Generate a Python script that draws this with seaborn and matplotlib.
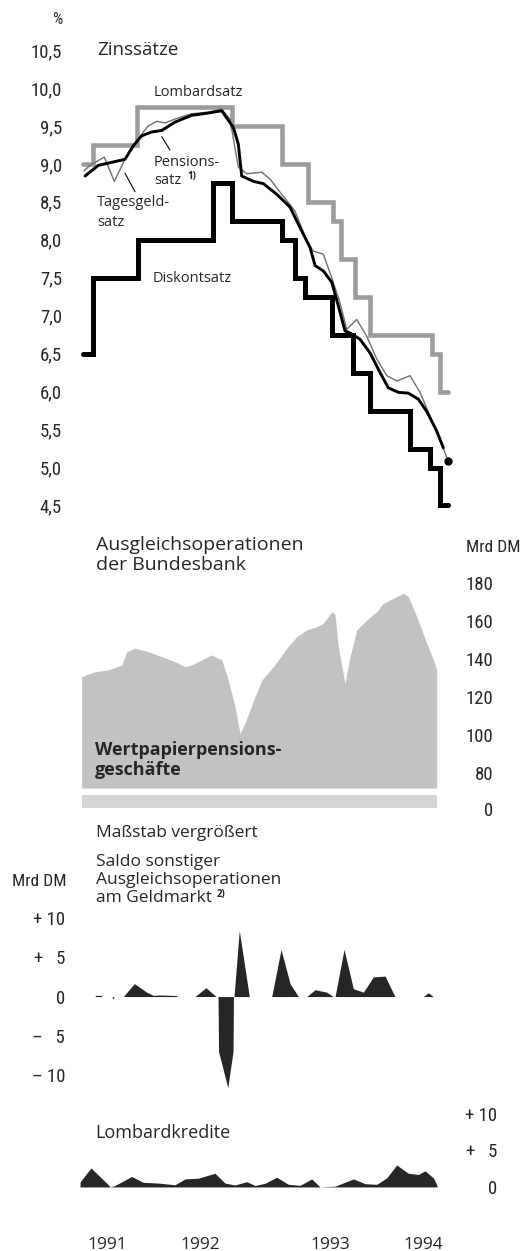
import numpy as np
import matplotlib
matplotlib.use("Agg")
import matplotlib.pyplot as plt
from matplotlib.lines import Line2D
import seaborn as sns

# ==========================================
# DATA (time axis in months since Jan 1991)
# ==========================================
# Zinssaetze, step series (value holds until next date)
LOMB_T = [6.45, 7.39, 11.53, 20.51, 25.24, 27.76, 30.13, 30.86, 32.18, 33.6, 39.44, 40.22, 41.0]
LOMB_R = [9.0, 9.25, 9.75, 9.5, 9.0, 8.5, 8.25, 7.75, 7.25, 6.75, 6.5, 6.0, 6.0]

DISK_T = [6.45, 7.39, 11.65, 18.75, 20.51, 25.24, 26.5, 27.45, 29.98, 32.02, 33.6, 37.38, 39.27, 40.22, 41.0]
DISK_R = [6.5, 7.5, 8.0, 8.75, 8.25, 8.0, 7.5, 7.25, 6.75, 6.25, 5.75, 5.25, 5.0, 4.5, 4.5]

# Pensionssatz (thick line)
PENS_T = [6.64, 7.89, 10.42, 11.21, 12.0, 12.95, 13.89, 15.15, 16.73, 18.3, 19.57, 20.67, 21.14,
          21.46, 22.56, 23.5, 24.77, 26.03, 26.98, 27.92, 28.4, 29.18, 29.98, 30.6, 31.23, 31.87,
          32.65, 33.6, 34.55, 35.33, 36.28, 37.22, 38.17, 38.96, 39.91, 40.53]
PENS_R = [8.84, 8.98, 9.06, 9.24, 9.37, 9.42, 9.44, 9.55, 9.64, 9.67, 9.70, 9.48, 9.26,
          8.84, 8.77, 8.74, 8.60, 8.43, 8.16, 7.90, 7.66, 7.59, 7.44, 7.13, 6.80, 6.76,
          6.69, 6.51, 6.25, 6.05, 5.99, 5.98, 5.90, 5.74, 5.48, 5.26]

# Tagesgeldsatz (thin line)
TAGG_T = [6.54, 7.11, 8.46, 9.41, 10.42, 11.21, 12.15, 12.62, 13.42, 14.2, 15.15, 16.73, 18.27,
          19.57, 20.35, 21.14, 21.93, 23.35, 24.14, 25.24, 26.5, 27.6, 28.23, 29.18, 29.98, 30.76,
          31.39, 32.34, 33.29, 34.23, 35.18, 36.13, 37.38, 38.33, 39.27, 40.22, 41.0]
TAGG_R = [8.91, 8.98, 9.09, 8.77, 9.06, 9.22, 9.42, 9.50, 9.56, 9.54, 9.59, 9.66, 9.68,
          9.72, 9.59, 8.96, 8.87, 8.89, 8.80, 8.60, 8.38, 7.99, 7.85, 7.81, 7.50, 7.17,
          6.82, 6.95, 6.73, 6.43, 6.21, 6.14, 6.21, 5.99, 5.68, 5.37, 5.08]

RATE_TICKS = [4.5, 5.0, 5.5, 6.0, 6.5, 7.0, 7.5, 8.0, 8.5, 9.0, 9.5, 10.0, 10.5]

# Wertpapierpensionsgeschaefte, Mrd DM
REPO_T = [6.32, 7.58, 8.84, 10.11, 10.58, 11.37, 12.62, 13.89, 15.15, 16.10, 16.73, 17.68, 18.62,
          19.57, 20.19, 20.83, 21.30, 21.77, 22.72, 23.38, 24.45, 25.72, 26.66, 27.61, 28.56,
          29.18, 29.98, 30.29, 30.60, 31.23, 31.71, 32.34, 33.29, 34.23, 34.86, 35.80, 36.75,
          37.22, 38.02, 38.96, 39.59, 39.91]
REPO_V = [130.7, 133.3, 134.2, 136.8, 143.8, 145.6, 143.8, 141.2, 138.6, 135.9, 136.8, 139.5, 142.1,
          139.5, 128.9, 114.9, 100.9, 106.2, 120.2, 129.0, 135.9, 145.6, 151.7, 155.3, 157.0,
          158.8, 164.9, 163.2, 146.5, 127.2, 141.2, 155.3, 160.5, 164.9, 169.3, 171.9, 174.6,
          172.8, 162.3, 148.3, 139.5, 134.2]
REPO_TICKS = [80, 100, 120, 140, 160, 180]

# Saldo sonstiger Ausgleichsoperationen, Mrd DM
SALDO_T = [7.58, 7.63, 8.20, 8.24, 9.19, 9.28, 9.38, 10.26, 11.30, 12.47, 13.10, 13.73, 15.31, 15.34,
           17.04, 18.08, 19.03, 19.22, 19.27, 20.14, 20.64, 20.68, 20.73, 21.23, 22.18,
           24.30, 25.18, 26.03, 26.82, 27.61, 28.40, 29.50, 30.13, 30.29, 31.14, 32.02, 32.97,
           33.91, 35.02, 35.96, 38.64, 39.11, 39.59]
SALDO_V = [0, 0.15, 0.15, 0, 0, -0.3, 0, 0, 1.65, 0.56, 0.15, 0.2, 0.13, 0,
           0, 1.13, 0, 0, -7.0, -11.6, -7.0, 0, 0, 8.4, 0,
           0, 6.0, 1.65, 0, 0, 0.87, 0.56, 0, 0, 6.0, 1.0, 0.56,
           2.5, 2.6, 0, 0, 0.48, 0]
SALDO_TICKS = [10, 5, 0, -5, -10]
SALDO_LABELS = ["+ 10", "+   5", "0", "\u2013   5", "\u2013 10"]

# Lombardkredite, Mrd DM
LKRED_T = [6.16, 6.18, 7.20, 8.84, 9.0, 9.41, 11.05, 12.15, 13.57, 15.15, 16.10, 17.35, 18.93, 19.88,
           20.83, 21.93, 22.72, 23.66, 24.77, 25.87, 26.98, 28.08, 28.87, 30.29, 32.02, 33.13,
           34.23, 35.18, 36.12, 37.22, 38.17, 38.80, 39.59, 39.91, 39.94]
LKRED_V = [0, 0.7, 2.6, 0.3, 0, 0.15, 1.43, 0.63, 0.53, 0.3, 1.1, 1.2, 1.87, 0.53,
           0.27, 0.72, 0.2, 0.5, 1.33, 0.36, 0.22, 1.1, 0, 0.1, 1.1, 0.45,
           0.36, 1.24, 3.0, 1.87, 1.7, 2.2, 1.24, 0.3, 0]
LKRED_TICKS = [0, 5, 10]
LKRED_LABELS = ["0", "+   5", "+ 10"]

YEAR_POS = [8.7, 17.5, 29.8, 38.6]
YEAR_LABELS = ["1991", "1992", "1993", "1994"]

# ==========================================
# STYLE / LAYOUT
# ==========================================
sns.set_theme(style="white")
plt.rcParams['font.family'] = ['Open Sans', 'DejaVu Sans']
# condensed face for the scale numbers, first installed one wins
NARROW = ['Liberation Sans Narrow', 'Roboto Condensed', 'Roboto', 'DejaVu Sans']
TICK_SIZE = 13.5

W, H = 522, 1251
fig = plt.figure(figsize=(W / 100, H / 100), dpi=100)
XLIM = (5.217, 42.11)  # axes span 70..460 px


def px_axes(left, top, right, bottom):
    ax = fig.add_axes([left / W, 1 - bottom / H, (right - left) / W, (bottom - top) / H])
    ax.set_xlim(*XLIM)
    ax.set_facecolor('none')
    for s in ax.spines.values():
        s.set_visible(False)
    ax.set_xticks([])
    ax.tick_params(length=0)
    return ax


def ftext(x, y, s, **kw):
    kw.setdefault('va', 'center')
    kw.setdefault('ha', 'left')
    return fig.text(x / W, 1 - y / H, s, **kw)


def fline(x1, y1, x2, y2):
    fig.add_artist(Line2D([x1 / W, x2 / W], [1 - y1 / H, 1 - y2 / H],
                          transform=fig.transFigure, color='black', lw=0.8))


def note_after(txt, y, s, gap=4):
    # small footnote mark placed right after an existing text
    fig.canvas.draw()
    x_end = txt.get_window_extent().x1
    ftext(x_end + gap, y, s, fontsize=7, fontweight='bold')


def style_ticks(ax):
    for lab in ax.get_yticklabels():
        lab.set_family(NARROW)
        lab.set_fontsize(TICK_SIZE)


# ---------- Panel 1: Zinssaetze ----------
ax1 = px_axes(70, 45, 460, 512)
ax1.set_ylim(4.414, 10.566)
sns.lineplot(x=LOMB_T, y=LOMB_R, ax=ax1, estimator=None, drawstyle='steps-post',
             color='#9c9c9c', linewidth=3.3, solid_joinstyle='miter')
sns.lineplot(x=DISK_T, y=DISK_R, ax=ax1, estimator=None, drawstyle='steps-post',
             color='black', linewidth=3.6, solid_joinstyle='miter')
sns.lineplot(x=TAGG_T, y=TAGG_R, ax=ax1, estimator=None, sort=False,
             color='#707070', linewidth=1.0)
sns.lineplot(x=PENS_T, y=PENS_R, ax=ax1, estimator=None, sort=False,
             color='black', linewidth=2.1)
ax1.plot(TAGG_T[-1], TAGG_R[-1], 'o', color='black', markersize=5, clip_on=False)
ax1.set_yticks(RATE_TICKS)
ax1.set_yticklabels([f"{v:.1f}".replace('.', ',') for v in RATE_TICKS])
ax1.tick_params(axis='y', pad=5.8)
style_ticks(ax1)
ax1.set_xlabel('')
ax1.set_ylabel('')

ftext(62, 20, '%', ha='right', family=NARROW, fontsize=11.5)
ftext(97, 50, 'Zinssätze', fontsize=13.5)
ftext(154, 93, 'Lombardsatz', fontsize=10.5)
ftext(154, 162, 'Pensions-', fontsize=10.5)
t_satz = ftext(154, 181, 'satz', fontsize=10.5)
note_after(t_satz, 177, '1)', gap=6)
ftext(97, 203, 'Tagesgeld-', fontsize=10.5)
ftext(97, 222, 'satz', fontsize=10.5)
ftext(153, 279, 'Diskontsatz', fontsize=10.5)
fline(161.7, 136.7, 170, 150)
fline(125, 173.3, 135, 191.7)

# ---------- Panel 2: Ausgleichsoperationen ----------
ax2 = px_axes(70, 570, 460, 788)
ax2.set_ylim(72.1, 186.8)
ax2.fill_between(REPO_T, REPO_V, 72.1, color='#c2c2c2', linewidth=0)
ax2.yaxis.tick_right()
ax2.set_yticks(REPO_TICKS)
ax2.set_yticklabels([str(v) for v in REPO_TICKS])
ax2.tick_params(axis='y', pad=23.8)
style_ticks(ax2)
plt.setp(ax2.get_yticklabels(), ha='right')

ax2b = px_axes(70, 793, 460, 812)
ax2b.set_ylim(-1.6, 8.4)
ax2b.fill_between([REPO_T[0], REPO_T[-1]], [0.5, 0.5], [7.2, 7.2], color='#d6d6d6', linewidth=0)
ax2b.yaxis.tick_right()
ax2b.set_yticks([0])
ax2b.set_yticklabels(['0'])
ax2b.tick_params(axis='y', pad=23.8)
style_ticks(ax2b)
plt.setp(ax2b.get_yticklabels(), ha='right')

ftext(96, 545, 'Ausgleichsoperationen', fontsize=14)
ftext(96, 565, 'der Bundesbank', fontsize=14)
ftext(521, 548, 'Mrd DM', ha='right', family=NARROW, fontsize=12.5)
ftext(95, 750, 'Wertpapierpensions-', fontsize=13, fontweight='bold')
ftext(95, 770, 'geschäfte', fontsize=13, fontweight='bold')

# ---------- Panel 3: Saldo ----------
ax3 = px_axes(70, 905, 460, 1090)
ax3.set_ylim(-11.9, 11.66)
ax3.fill_between(SALDO_T, SALDO_V, 0, color='#262626', linewidth=0)
ax3.set_yticks(SALDO_TICKS)
ax3.set_yticklabels(SALDO_LABELS)
ax3.tick_params(axis='y', pad=3.6)
style_ticks(ax3)

ftext(96, 833, 'Maßstab vergrößert', fontsize=12.5)
ftext(96, 862, 'Saldo sonstiger', fontsize=12.5)
ftext(96, 880, 'Ausgleichsoperationen', fontsize=12.5)
t_geld = ftext(96, 898, 'am Geldmarkt', fontsize=12.5)
note_after(t_geld, 894, '2)', gap=5)
ftext(66, 882, 'Mrd DM', ha='right', family=NARROW, fontsize=12.5)

# ---------- Panel 4: Lombardkredite ----------
ax4 = px_axes(70, 1105, 460, 1195)
ax4.set_ylim(-1.1, 11.2)
ax4.fill_between(LKRED_T, LKRED_V, 0, color='#262626', linewidth=0)
ax4.yaxis.tick_right()
ax4.set_yticks(LKRED_TICKS)
ax4.set_yticklabels(LKRED_LABELS)
ax4.tick_params(axis='y', pad=26.6)
style_ticks(ax4)
plt.setp(ax4.get_yticklabels(), ha='right')
ax4.set_xticks(YEAR_POS)
ax4.set_xticklabels(YEAR_LABELS, fontsize=12.5)
ax4.tick_params(axis='x', pad=30, length=0)

ftext(95, 1133, 'Lombardkredite', fontsize=13)

fig.savefig('out.png', dpi=100, facecolor='white')
